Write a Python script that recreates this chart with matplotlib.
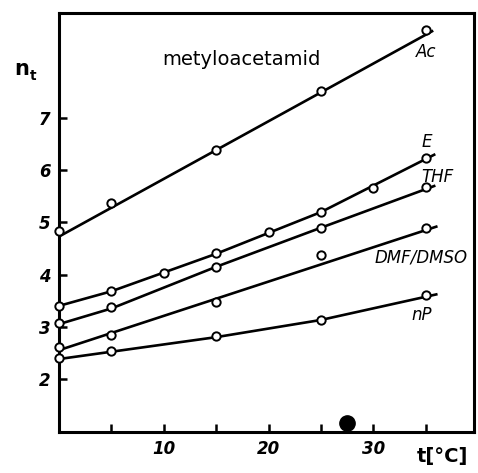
import matplotlib.pyplot as plt

# measured points (t in degC, n_t)
t_pts = [0, 5, 15, 25, 35]
ac_pts = [4.83, 5.37, 6.40, 7.52, 8.69]
e_t = [0, 5, 10, 15, 20, 25, 30, 35]
e_pts = [3.40, 3.69, 4.04, 4.42, 4.81, 5.21, 5.67, 6.23]
thf_pts = [3.08, 3.37, 4.15, 4.90, 5.69]
dmf_pts = [2.62, 2.85, 3.48, 4.37, 4.90]
np_pts = [2.40, 2.54, 2.83, 3.13, 3.60]

# hand-drawn curves through the points
ac_line_t = [0, 35.6]
ac_line = [4.73, 8.67]
e_line_t = [0, 5, 15, 25, 35.8]
e_line = [3.40, 3.68, 4.40, 5.20, 6.30]
thf_line_t = [0, 5, 15, 25, 35.8]
thf_line = [3.05, 3.35, 4.15, 4.90, 5.70]
dmf_line_t = [0, 36]
dmf_line = [2.55, 4.92]
np_line_t = [0, 5, 15, 25, 36]
np_line = [2.38, 2.52, 2.80, 3.13, 3.62]

labels = ["Ac", "E", "THF", "DMF/DMSO", "nP"]
label_pos = [(34.1, 8.27), (34.6, 6.54), (34.6, 5.88), (30.1, 4.33), (33.6, 3.23)]

fig = plt.figure(figsize=(4.78, 4.73), dpi=100)
ax = fig.add_axes([0.1234, 0.0867, 0.8682, 0.8858])

curves = [
    (ac_line_t, ac_line, t_pts, ac_pts),
    (e_line_t, e_line, e_t, e_pts),
    (thf_line_t, thf_line, t_pts, thf_pts),
    (dmf_line_t, dmf_line, t_pts, dmf_pts),
    (np_line_t, np_line, t_pts, np_pts),
]
for lt, ly, pt, py in curves:
    ax.plot(lt, ly, color="black", linewidth=1.9, zorder=2)
    ax.plot(pt, py, "o", color="black", markerfacecolor="white",
            markersize=6, markeredgewidth=1.4, zorder=3, clip_on=False)

for lab, (x, y) in zip(labels, label_pos):
    ax.text(x, y, lab, fontsize=12, style="italic", va="center", ha="left")

ax.text(9.9, 8.13, "metyloacetamid", fontsize=14, va="center", ha="left")

# scan blot on the axis
ax.plot([27.5], [1.15], "o", color="black", markersize=11, clip_on=False)

ax.set_xlim(0, 39.6)
ax.set_ylim(0.98, 9.02)
ax.set_xticks([5, 10, 15, 20, 25, 30, 35])
ax.set_xticklabels(["", "10", "", "20", "", "30", ""])
ax.set_yticks([2, 3, 4, 5, 6, 7])
ax.tick_params(direction="in", length=6, width=1.8, labelsize=12, pad=6)
for lab in ax.get_xticklabels() + ax.get_yticklabels():
    lab.set_fontstyle("italic")
    lab.set_fontweight("bold")
for s in ax.spines.values():
    s.set_linewidth(2.2)

fig.text(0.045, 0.855, "n", fontsize=15, fontweight="bold", ha="center", va="center")
fig.text(0.07, 0.84, "t", fontsize=10, fontweight="bold", ha="center", va="center")
fig.text(0.925, 0.035, "t[°C]", fontsize=14, fontweight="bold", ha="center", va="center")

fig.savefig("out.png", dpi=100)
